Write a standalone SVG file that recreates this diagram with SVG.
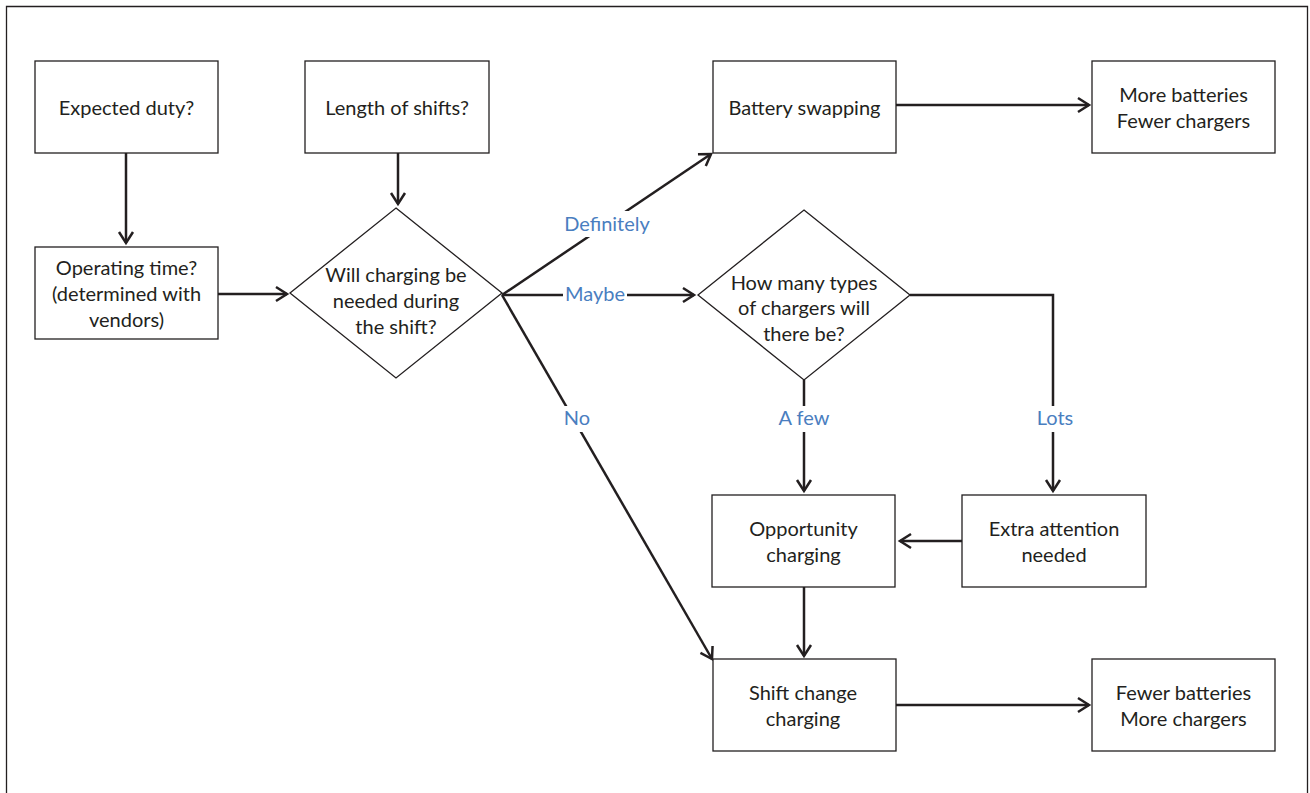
<svg xmlns="http://www.w3.org/2000/svg" width="1310" height="793" viewBox="0 0 1310 793">
  <style>
    .box { fill: #ffffff; stroke: #231f20; stroke-width: 1.3; }
    .lbl { font-family: Lato, "Liberation Sans", sans-serif; font-size: 20px; fill: #231f20; text-anchor: middle; }
    .edge { fill: none; stroke: #231f20; stroke-width: 2.5; }
    .tag { font-family: Lato, "Liberation Sans", sans-serif; font-size: 20px; fill: #4a7ebf; text-anchor: middle; }
    .tagbg { fill: #ffffff; }
  </style>
  <defs>
    <marker id="arrow" markerUnits="userSpaceOnUse" markerWidth="16" markerHeight="18" refX="12" refY="8" orient="auto" overflow="visible">
      <path d="M1,1 L12,8 L1,15" fill="none" stroke="#231f20" stroke-width="2.5"/>
    </marker>
  </defs>

  <rect x="0" y="0" width="1310" height="793" fill="#ffffff"/>
  <!-- outer frame -->
  <path d="M6.5,800 V6.5 H1307.5 V800" fill="none" stroke="#231f20" stroke-width="1.3"/>

  <!-- connectors -->
  <g id="connectors">
    <path class="edge" d="M126,153 V243" marker-end="url(#arrow)"/>
    <path class="edge" d="M398,153 V204" marker-end="url(#arrow)"/>
    <path class="edge" d="M218,294 H287" marker-end="url(#arrow)"/>
    <path class="edge" d="M502,295 L711,154" marker-end="url(#arrow)"/>
    <path class="edge" d="M502,295 H694" marker-end="url(#arrow)"/>
    <path class="edge" d="M502,295 L712,659" marker-end="url(#arrow)"/>
    <path class="edge" d="M804,380 V491" marker-end="url(#arrow)"/>
    <path class="edge" d="M910,295 H1053 V491" marker-end="url(#arrow)"/>
    <path class="edge" d="M962,541 H900" marker-end="url(#arrow)"/>
    <path class="edge" d="M804,587 V656" marker-end="url(#arrow)"/>
    <path class="edge" d="M896,105 H1089" marker-end="url(#arrow)"/>
    <path class="edge" d="M896,705 H1089" marker-end="url(#arrow)"/>

    <rect class="tagbg" x="561" y="211" width="92" height="26"/>
    <text class="tag" x="607" y="231">Definitely</text>
    <rect class="tagbg" x="563" y="282" width="64" height="26"/>
    <text class="tag" x="595" y="301">Maybe</text>
    <rect class="tagbg" x="561" y="406" width="32" height="26"/>
    <text class="tag" x="577" y="425">No</text>
    <rect class="tagbg" x="775" y="406" width="58" height="26"/>
    <text class="tag" x="804" y="425">A few</text>
    <rect class="tagbg" x="1033" y="406" width="44" height="26"/>
    <text class="tag" x="1055" y="425">Lots</text>
  </g>

  <g id="expected-duty">
    <rect class="box" x="35" y="61" width="183" height="92"/>
    <text class="lbl" x="126.5" y="115">Expected duty?</text>
  </g>
  <g id="length-of-shifts">
    <rect class="box" x="305" y="61" width="184" height="92"/>
    <text class="lbl" x="397" y="115">Length of shifts?</text>
  </g>
  <g id="battery-swapping">
    <rect class="box" x="713" y="61" width="183" height="92"/>
    <text class="lbl" x="804.5" y="115">Battery swapping</text>
  </g>
  <g id="more-batteries">
    <rect class="box" x="1092" y="61" width="183" height="92"/>
    <text class="lbl" x="1183.5" y="102">More batteries</text>
    <text class="lbl" x="1183.5" y="128">Fewer chargers</text>
  </g>
  <g id="operating-time">
    <rect class="box" x="35" y="247" width="183" height="92"/>
    <text class="lbl" x="126.5" y="275">Operating time?</text>
    <text class="lbl" x="126.5" y="301">(determined with</text>
    <text class="lbl" x="126.5" y="327">vendors)</text>
  </g>
  <g id="charging-needed">
    <polygon class="box" points="396,208 502,293 396,378 290,293"/>
    <text class="lbl" x="396" y="282">Will charging be</text>
    <text class="lbl" x="396" y="308">needed during</text>
    <text class="lbl" x="396" y="334">the shift?</text>
  </g>
  <g id="charger-types">
    <polygon class="box" points="804,210 910,295 804,380 698,295"/>
    <text class="lbl" x="804" y="290">How many types</text>
    <text class="lbl" x="804" y="315">of chargers will</text>
    <text class="lbl" x="804" y="341">there be?</text>
  </g>
  <g id="opportunity-charging">
    <rect class="box" x="712" y="495" width="183" height="92"/>
    <text class="lbl" x="803.5" y="536">Opportunity</text>
    <text class="lbl" x="803.5" y="562">charging</text>
  </g>
  <g id="extra-attention">
    <rect class="box" x="962" y="495" width="184" height="92"/>
    <text class="lbl" x="1054" y="536">Extra attention</text>
    <text class="lbl" x="1054" y="562">needed</text>
  </g>
  <g id="shift-change-charging">
    <rect class="box" x="713" y="659" width="183" height="92"/>
    <text class="lbl" x="803" y="700">Shift change</text>
    <text class="lbl" x="803" y="726">charging</text>
  </g>
  <g id="fewer-batteries">
    <rect class="box" x="1092" y="659" width="183" height="92"/>
    <text class="lbl" x="1183.5" y="700">Fewer batteries</text>
    <text class="lbl" x="1183.5" y="726">More chargers</text>
  </g>
</svg>
